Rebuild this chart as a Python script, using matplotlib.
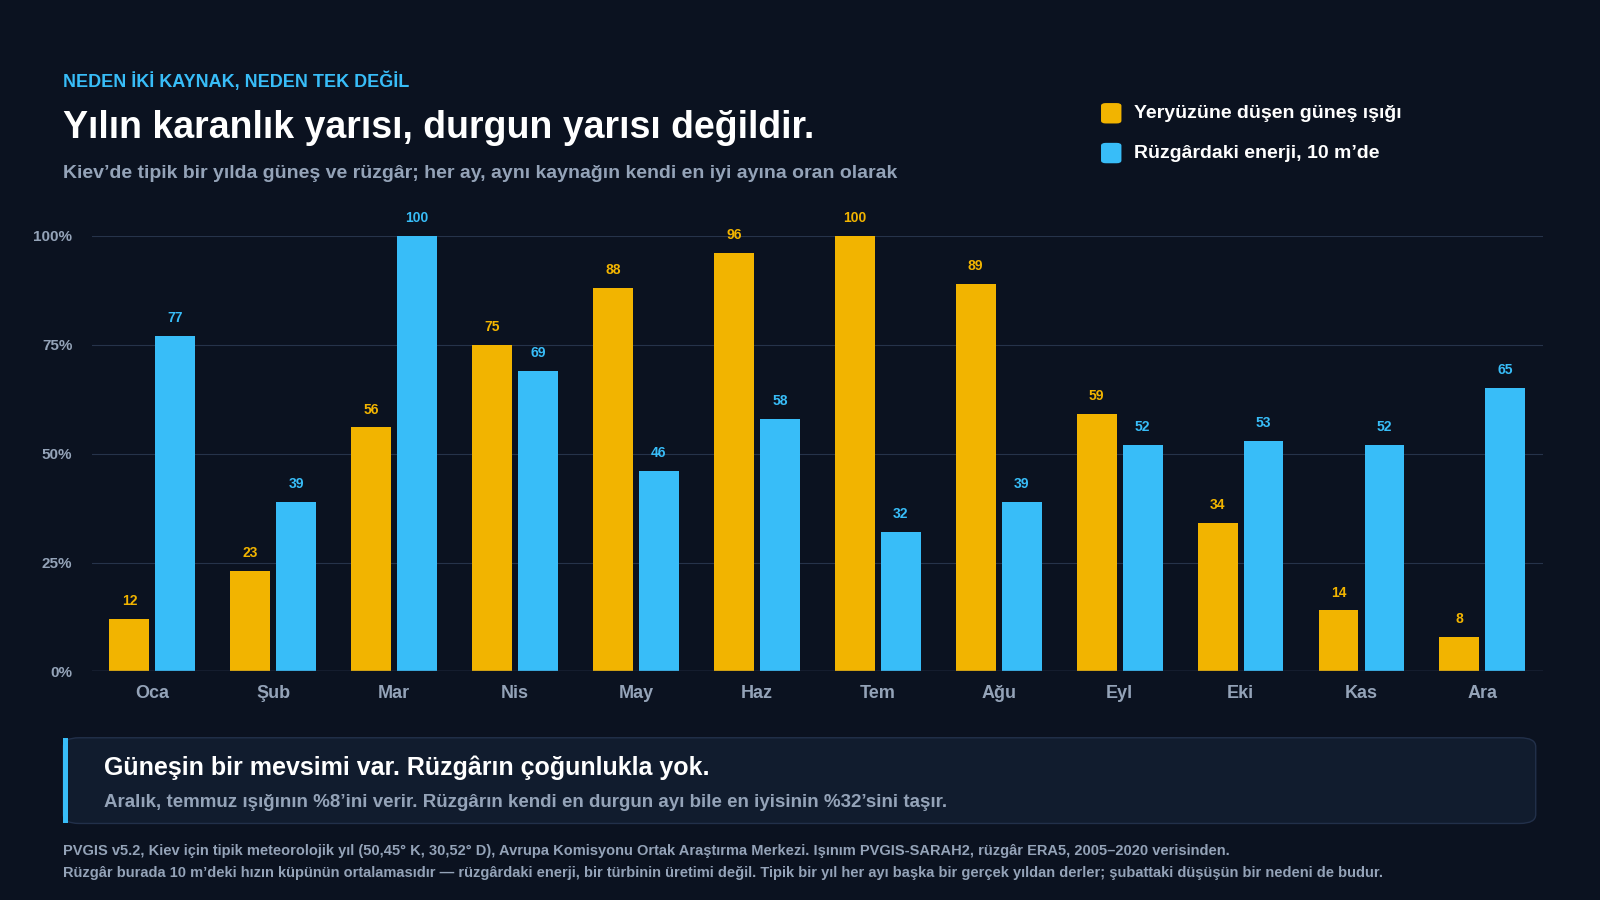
import matplotlib
matplotlib.use("Agg")
import matplotlib.pyplot as plt
from matplotlib.patches import FancyBboxPatch, Rectangle
import numpy as np

plt.rcParams['font.family'] = ['Liberation Sans', 'DejaVu Sans']

months = ["Oca", "Şub", "Mar", "Nis", "May", "Haz", "Tem", "Ağu", "Eyl", "Eki", "Kas", "Ara"]
solar = [12, 23, 56, 75, 88, 96, 100, 89, 59, 34, 14, 8]
wind = [77, 39, 100, 69, 46, 58, 32, 39, 52, 53, 52, 65]
yticks = [0, 25, 50, 75, 100]
ytick_labels = ["0%", "25%", "50%", "75%", "100%"]

BG = "#0b1220"
GOLD = "#f2b400"
BLUE = "#38bdf8"
GRID = "#26334a"
MUTED = "#94a3b8"

W, H = 1568, 882
fig = plt.figure(figsize=(16, 9), dpi=100, facecolor=BG)
def fx(x): return x / W
def fy(y): return 1 - y / H

ax = fig.add_axes([fx(90), fy(658), fx(1512) - fx(90), fy(231) - fy(658)])
ax.set_facecolor(BG)
x = np.arange(len(months))
bw = 0.33
off = 0.19
ax.bar(x - off, solar, bw, color=GOLD, zorder=3)
ax.bar(x + off, wind, bw, color=BLUE, zorder=3)
for i in range(len(months)):
    ax.text(x[i] - off, solar[i] + 2.5, str(solar[i]), ha='center', va='bottom', color=GOLD, fontsize=10, fontweight='bold')
    ax.text(x[i] + off, wind[i] + 2.5, str(wind[i]), ha='center', va='bottom', color=BLUE, fontsize=10, fontweight='bold')
ax.set_xlim(-0.5, 11.5)
ax.set_ylim(0, 100)
ax.set_yticks(yticks)
ax.set_yticklabels(ytick_labels, color=MUTED, fontsize=11, fontweight='bold')
ax.set_xticks(x)
ax.set_xticklabels(months, color=MUTED, fontsize=13, fontweight='bold')
ax.tick_params(length=0, pad=14)
ax.tick_params(axis='x', pad=10)
ax.grid(axis='y', color=GRID, linewidth=0.8, zorder=0)
for s in ax.spines.values():
    s.set_visible(False)
ax.axhline(0, color="#3b4a63", linewidth=1, zorder=4)
ax.set_clip_on(False)

fig.text(fx(62), fy(80), "NEDEN İKİ KAYNAK, NEDEN TEK DEĞİL", color=BLUE, fontsize=13, fontweight='bold', va='center')
fig.text(fx(62), fy(125), "Yılın karanlık yarısı, durgun yarısı değildir.", color="white", fontsize=27, fontweight='bold', va='center')
fig.text(fx(62), fy(170), "Kiev’de tipik bir yılda güneş ve rüzgâr; her ay, aynı kaynağın kendi en iyi ayına oran olarak", color=MUTED, fontsize=14, fontweight='bold', va='center')

# legend
for yy, col, lab in [(111, GOLD, "Yeryüzüne düşen güneş ışığı"), (150, BLUE, "Rüzgârdaki enerji, 10 m’de")]:
    fig.patches.append(FancyBboxPatch((fx(1079), fy(yy + 10)), fx(20), fy(0) - fy(20),
                                      boxstyle="round,pad=0,rounding_size=0.003", transform=fig.transFigure,
                                      facecolor=col, edgecolor='none'))
    fig.text(fx(1111), fy(yy), lab, color="white", fontsize=14, fontweight='bold', va='center')

# takeaway panel
fig.patches.append(FancyBboxPatch((fx(62), fy(807)), fx(1505) - fx(62), fy(723) - fy(807),
                                  boxstyle="round,pad=0,rounding_size=0.01", transform=fig.transFigure,
                                  facecolor="#111c2e", edgecolor="#22304a", linewidth=1))
fig.patches.append(Rectangle((fx(62), fy(807)), fx(5), fy(723) - fy(807), transform=fig.transFigure,
                             facecolor=BLUE, edgecolor='none'))
fig.text(fx(102), fy(752), "Güneşin bir mevsimi var. Rüzgârın çoğunlukla yok.", color="white", fontsize=18, fontweight='bold', va='center')
fig.text(fx(102), fy(786), "Aralık, temmuz ışığının %8’ini verir. Rüzgârın kendi en durgun ayı bile en iyisinin %32’sini taşır.", color=MUTED, fontsize=13.5, fontweight='bold', va='center')

fig.text(fx(62), fy(834), "PVGIS v5.2, Kiev için tipik meteorolojik yıl (50,45° K, 30,52° D), Avrupa Komisyonu Ortak Araştırma Merkezi. Işınım PVGIS-SARAH2, rüzgâr ERA5, 2005–2020 verisinden.", color=MUTED, fontsize=10.5, fontweight='bold', va='center')
fig.text(fx(62), fy(856), "Rüzgâr burada 10 m’deki hızın küpünün ortalamasıdır — rüzgârdaki enerji, bir türbinin üretimi değil. Tipik bir yıl her ayı başka bir gerçek yıldan derler; şubattaki düşüşün bir nedeni de budur.", color=MUTED, fontsize=10.5, fontweight='bold', va='center')

fig.savefig("out.png", dpi=100, facecolor=BG)
